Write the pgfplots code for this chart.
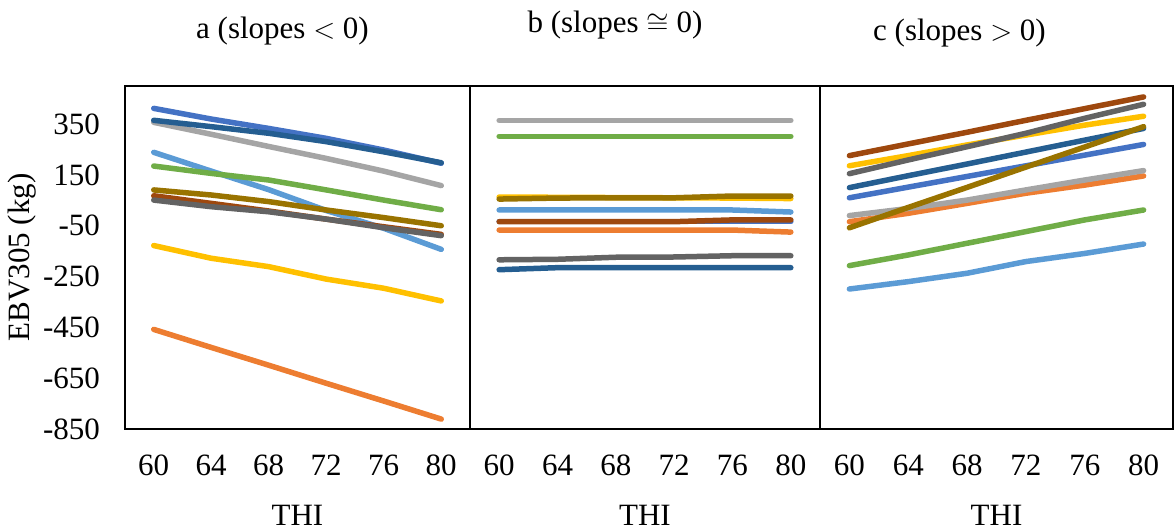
\documentclass[border=0pt]{standalone}
\usepackage{fontspec}
\setmainfont{Liberation Serif}
\usepackage{pgfplots}
\pgfplotsset{compat=1.18}
\definecolor{cBlue}{HTML}{4472C4}
\definecolor{cOrange}{HTML}{ED7D31}
\definecolor{cGray}{HTML}{A5A5A5}
\definecolor{cYellow}{HTML}{FFC000}
\definecolor{cLBlue}{HTML}{5B9BD5}
\definecolor{cGreen}{HTML}{70AD47}
\definecolor{cDBlue}{HTML}{255E91}
\definecolor{cDOrange}{HTML}{9E480E}
\definecolor{cDGray}{HTML}{636363}
\definecolor{cDGold}{HTML}{997300}
\pgfplotsset{
  panel/.style={
    scale only axis, height=171.5pt,
    anchor=south west,
    xmin=58, xmax=82, ymin=-850, ymax=500,
    axis line style={black, line width=1pt},
    major tick length=0pt,
    xtick={60,64,68,72,76,80},
    xticklabels={60,64,68,72,76,80},
    xticklabel style={yshift=-9.5pt},
    font=\fontsize{15.5}{18}\selectfont,
    xlabel={THI},
    xlabel style={at={(axis description cs:0.5,0)}, anchor=center, yshift=-43pt},
    every axis title shift=0pt,
    title style={at={(axis description cs:0.5,1)}, anchor=center},
    every axis plot/.append style={line width=2.75pt, line cap=round, line join=round, no marks},
  }
}
\begin{document}
\begin{tikzpicture}
\useasboundingbox (0,0) rectangle (587.5pt,265pt);
% panel a
\begin{axis}[panel, at={(62.5pt,50.5pt)}, width=172.5pt,
  ytick={-850,-650,-450,-250,-50,150,350},
  yticklabels={-850,-650,-450,-250,-50,150,350},
  yticklabel style={xshift=-9pt},
  ylabel={EBV305 (kg)},
  ylabel style={at={(axis description cs:-0.2986,0.5)}, anchor=center},
  title={a (slopes $<$ 0)},
  title style={yshift=27.5pt, xshift=-7.5pt}]
\addplot[cBlue] coordinates {(60,412) (64,370) (68,333) (72,294) (76,248) (80,196)};
\addplot[cOrange] coordinates {(60,-458) (64,-529) (68,-599) (72,-670) (76,-740) (80,-811)};
\addplot[cGray] coordinates {(60,357) (64,310) (68,262) (72,215) (76,165) (80,108)};
\addplot[cYellow] coordinates {(60,-128) (64,-178) (68,-211) (72,-260) (76,-296) (80,-346)};
\addplot[cLBlue] coordinates {(60,239) (64,165) (68,92) (72,10) (76,-60) (80,-143)};
\addplot[cGreen] coordinates {(60,185) (64,156) (68,130) (72,91) (76,51) (80,13)};
\addplot[cDBlue] coordinates {(60,365) (64,340) (68,314) (72,281) (76,241) (80,198)};
\addplot[cDOrange] coordinates {(60,68) (64,38) (68,8) (72,-24) (76,-54) (80,-84)};
\addplot[cDGray] coordinates {(60,51) (64,25) (68,5) (72,-24) (76,-58) (80,-89)};
\addplot[cDGold] coordinates {(60,91) (64,71) (68,45) (72,12) (76,-18) (80,-50)};
\end{axis}
% panel b
\begin{axis}[panel, at={(235pt,50.5pt)}, width=175pt,
  ytick=\empty,
  title={b (slopes $\cong$ 0)},
  title style={yshift=30.5pt, xshift=-15pt}]
\addplot[cBlue] coordinates {(60,-34) (64,-34) (68,-34) (72,-34) (76,-34) (80,-34)};
\addplot[cOrange] coordinates {(60,-67) (64,-67) (68,-67) (72,-67) (76,-67) (80,-75)};
\addplot[cGray] coordinates {(60,365) (64,365) (68,365) (72,365) (76,365) (80,365)};
\addplot[cYellow] coordinates {(60,63) (64,62) (68,61) (72,60) (76,59) (80,57)};
\addplot[cLBlue] coordinates {(60,12) (64,12) (68,12) (72,12) (76,12) (80,4)};
\addplot[cGreen] coordinates {(60,302) (64,302) (68,302) (72,302) (76,302) (80,302)};
\addplot[cDBlue] coordinates {(60,-223) (64,-215) (68,-215) (72,-215) (76,-215) (80,-215)};
\addplot[cDOrange] coordinates {(60,-34) (64,-34) (68,-34) (72,-34) (76,-27) (80,-27)};
\addplot[cDGray] coordinates {(60,-184) (64,-182) (68,-174) (72,-173) (76,-168) (80,-168)};
\addplot[cDGold] coordinates {(60,55) (64,59) (68,60) (72,60) (76,67) (80,67)};
\end{axis}
% panel c
\begin{axis}[panel, at={(410pt,50.5pt)}, width=176.5pt,
  ytick=\empty,
  title={c (slopes $>$ 0)},
  title style={yshift=26.5pt, xshift=-18.5pt}]
\addplot[cBlue] coordinates {(60,60) (64,102) (68,144) (72,186) (76,228) (80,270)};
\addplot[cOrange] coordinates {(60,-34) (64,-1) (68,38) (72,78) (76,110) (80,146)};
\addplot[cGray] coordinates {(60,-10) (64,18) (68,51) (72,91) (76,130) (80,167)};
\addplot[cYellow] coordinates {(60,186) (64,226) (68,268) (72,307) (76,346) (80,381)};
\addplot[cLBlue] coordinates {(60,-299) (64,-270) (68,-237) (72,-191) (76,-159) (80,-122)};
\addplot[cGreen] coordinates {(60,-207) (64,-165) (68,-119) (72,-73) (76,-27) (80,12)};
\addplot[cDBlue] coordinates {(60,100) (64,147) (68,193) (72,240) (76,287) (80,333)};
\addplot[cDOrange] coordinates {(60,226) (64,272) (68,318) (72,365) (76,411) (80,457)};
\addplot[cDGray] coordinates {(60,155) (64,209) (68,261) (72,314) (76,373) (80,428)};
\addplot[cDGold] coordinates {(60,-58) (64,22) (68,101) (72,181) (76,260) (80,340)};
\end{axis}
\end{tikzpicture}
\end{document}
